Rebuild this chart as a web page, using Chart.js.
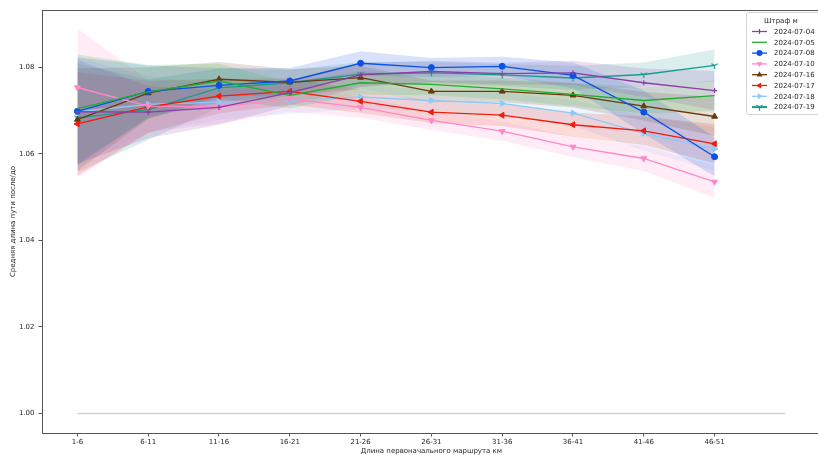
<!DOCTYPE html>
<html><head><meta charset="utf-8">
<script src="https://cdn.jsdelivr.net/npm/chart.js@4.4.1/dist/chart.umd.min.js"></script>
<style>
html,body{margin:0;padding:0;overflow:hidden;background:#fff;width:818px;height:455px}
#wrap{position:relative;width:826px;height:455px}
</style></head>
<body><div id="wrap"><canvas id="c" width="826" height="455"></canvas></div>
<script>
const categories = ['1-6','6-11','11-16','16-21','21-26','26-31','31-36','36-41','41-46','46-51'];
const yTicks = [1.00, 1.02, 1.04, 1.06, 1.08];
const legendTitle = 'Штраф м';
const xTitle = 'Длина первоначального маршрута км';
const yTitle = 'Средняя длина пути после/до';
const baselineValue = 1.00;

const s0704 = [1.0697, 1.0696, 1.0707, 1.0741, 1.0782, 1.0790, 1.0785, 1.0787, 1.0764, 1.0746];
const s0704Low = [1.0577, 1.0636, 1.0667, 1.0711, 1.0754, 1.0765, 1.0760, 1.0759, 1.0731, 1.0701];
const s0704High = [1.0817, 1.0756, 1.0747, 1.0771, 1.0810, 1.0815, 1.0810, 1.0815, 1.0797, 1.0791];

const s0705 = [1.0704, 1.0743, 1.0768, 1.0735, 1.0764, 1.0760, 1.0750, 1.0737, 1.0723, 1.0734];
const s0705Low = [1.0579, 1.0681, 1.0728, 1.0705, 1.0737, 1.0735, 1.0725, 1.0710, 1.0693, 1.0699];
const s0705High = [1.0829, 1.0805, 1.0808, 1.0765, 1.0791, 1.0785, 1.0775, 1.0764, 1.0753, 1.0769];

const s0708 = [1.0698, 1.0744, 1.0758, 1.0768, 1.0809, 1.0799, 1.0802, 1.0781, 1.0696, 1.0593];
const s0708Low = [1.0573, 1.0684, 1.0718, 1.0738, 1.0781, 1.0777, 1.0780, 1.0751, 1.0646, 1.0548];
const s0708High = [1.0823, 1.0804, 1.0798, 1.0798, 1.0837, 1.0821, 1.0824, 1.0811, 1.0746, 1.0638];

const s0710 = [1.0753, 1.0710, 1.0708, 1.0727, 1.0707, 1.0677, 1.0652, 1.0616, 1.0589, 1.0535];
const s0710Low = [1.0545, 1.0650, 1.0670, 1.0697, 1.0683, 1.0655, 1.0630, 1.0592, 1.0560, 1.0498];
const s0710High = [1.0890, 1.0770, 1.0746, 1.0757, 1.0731, 1.0699, 1.0674, 1.0640, 1.0618, 1.0572];

const s0716 = [1.0679, 1.0740, 1.0772, 1.0765, 1.0776, 1.0744, 1.0744, 1.0735, 1.0710, 1.0686];
const s0716Low = [1.0561, 1.0680, 1.0732, 1.0735, 1.0749, 1.0719, 1.0719, 1.0707, 1.0677, 1.0641];
const s0716High = [1.0797, 1.0800, 1.0812, 1.0795, 1.0803, 1.0769, 1.0769, 1.0763, 1.0743, 1.0731];

const s0717 = [1.0669, 1.0708, 1.0733, 1.0744, 1.0721, 1.0696, 1.0689, 1.0667, 1.0653, 1.0623];
const s0717Low = [1.0549, 1.0648, 1.0693, 1.0714, 1.0694, 1.0671, 1.0664, 1.0639, 1.0620, 1.0578];
const s0717High = [1.0789, 1.0768, 1.0773, 1.0774, 1.0748, 1.0721, 1.0714, 1.0695, 1.0686, 1.0668];

const s0718 = [1.0697, 1.0714, 1.0719, 1.0722, 1.0731, 1.0723, 1.0716, 1.0694, 1.0647, 1.0611];
const s0718Low = [1.0572, 1.0649, 1.0679, 1.0692, 1.0704, 1.0698, 1.0691, 1.0664, 1.0607, 1.0561];
const s0718High = [1.0822, 1.0779, 1.0759, 1.0752, 1.0758, 1.0748, 1.0741, 1.0724, 1.0687, 1.0661];

const s0719 = [1.0683, 1.0702, 1.0752, 1.0764, 1.0784, 1.0787, 1.0782, 1.0775, 1.0783, 1.0804];
const s0719Low = [1.0558, 1.0632, 1.0707, 1.0734, 1.0756, 1.0762, 1.0757, 1.0747, 1.0755, 1.0767];
const s0719High = [1.0808, 1.0772, 1.0797, 1.0794, 1.0812, 1.0812, 1.0807, 1.0803, 1.0811, 1.0841];

const FONT = 'DejaVu Sans';
const TXT = '#262626';
const AX = '#555';
const BAND_ALPHA = 0.16;

function triDown(color){
  const c = document.createElement('canvas'); c.width = 9; c.height = 9;
  const g = c.getContext('2d'); g.strokeStyle = color; g.lineWidth = 1.2;
  const cx = 4.5, cy = 4.5, r = 3.6;
  g.beginPath();
  g.moveTo(cx, cy); g.lineTo(cx, cy + r);
  g.moveTo(cx, cy); g.lineTo(cx - r*0.866, cy - r*0.5);
  g.moveTo(cx, cy); g.lineTo(cx + r*0.866, cy - r*0.5);
  g.stroke();
  return c;
}

const series = [
  {name:'2024-07-04', v:s0704, lo:s0704Low, hi:s0704High, color:'#8b3fa6', style:'cross', rot:0, r:2.6},
  {name:'2024-07-05', v:s0705, lo:s0705Low, hi:s0705High, color:'#1fae2f', style:'none', rot:0, r:0},
  {name:'2024-07-08', v:s0708, lo:s0708Low, hi:s0708High, color:'#0b52e4', style:'circle', rot:0, r:3},
  {name:'2024-07-10', v:s0710, lo:s0710Low, hi:s0710High, color:'#ff88c6', style:'triangle', rot:180, r:3.4},
  {name:'2024-07-16', v:s0716, lo:s0716Low, hi:s0716High, color:'#6b3a0c', style:'triangle', rot:0, r:3.4},
  {name:'2024-07-17', v:s0717, lo:s0717Low, hi:s0717High, color:'#ef1c0c', style:'triangle', rot:-90, r:3.4},
  {name:'2024-07-18', v:s0718, lo:s0718Low, hi:s0718High, color:'#8ecaf6', style:'triangle', rot:90, r:3.4},
  {name:'2024-07-19', v:s0719, lo:s0719Low, hi:s0719High, color:'#1a9c8c', style:'tri', rot:0, r:3.6}
];

function rgba(hex, a){
  const n = parseInt(hex.slice(1),16);
  return `rgba(${(n>>16)&255},${(n>>8)&255},${n&255},${a})`;
}
const pts = arr => arr.map((y,i)=>({x:i,y}));

const datasets = [];
series.forEach(s => {
  datasets.push({data:pts(s.hi), borderWidth:0, pointRadius:0, fill:false, order:10, tension:0, backgroundColor:rgba(s.color,BAND_ALPHA)});
  datasets.push({data:pts(s.lo), borderWidth:0, pointRadius:0, fill:'-1', order:10, tension:0, backgroundColor:rgba(s.color,BAND_ALPHA)});
});
datasets.push({data:[{x:0,y:baselineValue},{x:categories.length,y:baselineValue}], borderColor:'#d2d2d2', borderWidth:1.5, pointRadius:0, fill:false, order:5});
series.forEach(s => {
  const img = s.style === 'tri' ? triDown(s.color) : null;
  datasets.push({
    label:s.name, data:pts(s.v), borderColor:s.color, backgroundColor:s.color,
    borderWidth:1.3, tension:0, fill:false, order:1,
    pointStyle: img || (s.style === 'none' ? 'circle' : s.style),
    pointRotation:s.rot, pointRadius:s.r, pointBorderWidth: s.style==='cross'?1.2:1,
    pointBorderColor:s.color, pointBackgroundColor:s.color
  });
});

function drawMarker(ctx, s, x, y){
  ctx.save();
  ctx.fillStyle = s.color; ctx.strokeStyle = s.color; ctx.lineWidth = 1.2;
  if (s.style === 'circle'){
    ctx.beginPath(); ctx.arc(x,y,s.r,0,Math.PI*2); ctx.fill();
  } else if (s.style === 'triangle'){
    const rad = s.rot*Math.PI/180; ctx.beginPath();
    for (let k=0;k<3;k++){ const t = rad + k*2*Math.PI/3; const px = x + Math.sin(t)*s.r, py = y - Math.cos(t)*s.r; k?ctx.lineTo(px,py):ctx.moveTo(px,py);}
    ctx.closePath(); ctx.fill();
  } else if (s.style === 'cross'){
    ctx.beginPath(); ctx.moveTo(x-s.r,y); ctx.lineTo(x+s.r,y); ctx.moveTo(x,y-s.r); ctx.lineTo(x,y+s.r); ctx.stroke();
  } else if (s.style === 'tri'){
    const r = s.r; ctx.beginPath();
    ctx.moveTo(x,y); ctx.lineTo(x,y+r);
    ctx.moveTo(x,y); ctx.lineTo(x-r*0.866,y-r*0.5);
    ctx.moveTo(x,y); ctx.lineTo(x+r*0.866,y-r*0.5);
    ctx.stroke();
  }
  ctx.restore();
}

const framePlugin = {
  id:'frame',
  afterDraw(chart){
    const {ctx, chartArea:a} = chart;
    ctx.save();
    ctx.strokeStyle = AX; ctx.lineWidth = 1;
    ctx.beginPath(); ctx.moveTo(a.left, a.top+0.5); ctx.lineTo(a.right, a.top+0.5); ctx.stroke();
    ctx.beginPath(); ctx.moveTo(a.right-0.5, a.top); ctx.lineTo(a.right-0.5, a.bottom); ctx.stroke();
    const bx = 746.5, by = 12.5, bw = 80, bh = 102;
    ctx.fillStyle = 'rgba(255,255,255,0.85)'; ctx.strokeStyle = '#d4d4d4';
    ctx.beginPath();
    if (ctx.roundRect) ctx.roundRect(bx,by,bw,bh,2); else ctx.rect(bx,by,bw,bh);
    ctx.fill(); ctx.stroke();
    ctx.fillStyle = TXT; ctx.font = `7px "${FONT}"`;
    ctx.textAlign = 'center'; ctx.textBaseline = 'middle';
    ctx.fillText(legendTitle, 781, 21.5);
    ctx.textAlign = 'left';
    series.forEach((s,i) => {
      const y = 31.5 + i*10.8;
      ctx.strokeStyle = s.color; ctx.lineWidth = s.style==='tri' ? 2 : 1.3;
      ctx.beginPath(); ctx.moveTo(752, y); ctx.lineTo(767, y); ctx.stroke();
      drawMarker(ctx, s, 759.5, y);
      ctx.fillStyle = TXT;
      ctx.fillText(s.name, 774, y+0.5);
    });
    ctx.restore();
  }
};

new Chart(document.getElementById('c'), {
  type:'line',
  data:{datasets},
  options:{
    responsive:false, animation:false, devicePixelRatio:1,
    layout:{padding:{top:10,right:1,left:0,bottom:0}},
    plugins:{legend:{display:false}, tooltip:{enabled:false}},
    scales:{
      x:{
        type:'linear', min:-0.5, max:10.5,
        afterBuildTicks: sc => { sc.ticks = categories.map((_,i)=>({value:i})); },
        afterFit: sc => { sc.height = 22; },
        ticks:{callback: v => categories[v] ?? '', autoSkip:false, maxRotation:0, font:{family:FONT,size:7}, color:TXT, padding:1},
        grid:{display:true, drawOnChartArea:false, drawTicks:true, tickLength:3.5, color:AX},
        border:{display:true, color:AX, width:1},
        title:{display:true, text:xTitle, font:{family:FONT,size:7}, color:TXT, padding:{top:1,bottom:0}}
      },
      y:{
        type:'linear', min:0.9955, max:1.0932,
        afterBuildTicks: sc => { sc.ticks = yTicks.map(v=>({value:v})); },
        afterFit: sc => { sc.width = 42; },
        ticks:{callback: v => Number(v).toFixed(2), font:{family:FONT,size:7}, color:TXT, padding:4},
        grid:{display:true, drawOnChartArea:false, drawTicks:true, tickLength:3.5, color:AX},
        border:{display:true, color:AX, width:1},
        title:{display:true, text:yTitle, font:{family:FONT,size:7}, color:TXT, padding:{top:9,bottom:0}}
      }
    }
  },
  plugins:[framePlugin]
});
</script>
</body></html>
